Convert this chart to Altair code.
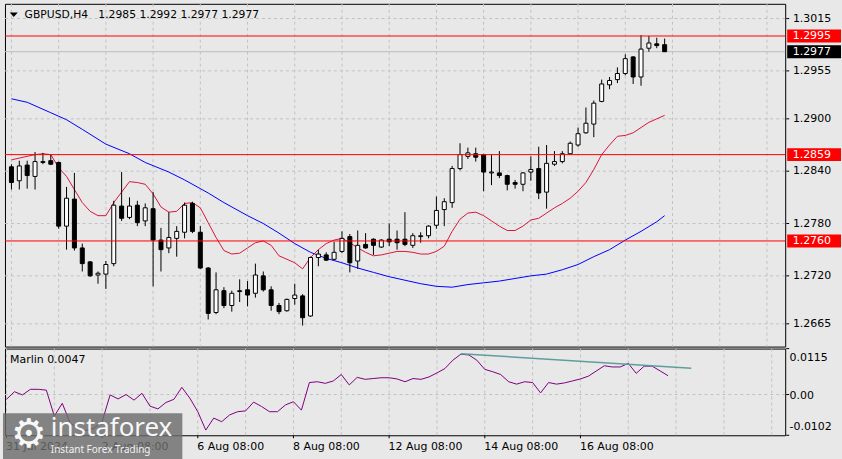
import altair as alt
import pandas as pd

# ---------------- data ----------------
symbol = "GBPUSD,H4"
opens = [1.2845, 1.2829, 1.2847, 1.2834, 1.2850, 1.2852, 1.2850, 1.2777, 1.2808, 1.2752,
         1.2736, 1.2721, 1.2722, 1.2734, 1.2800, 1.2787, 1.2801, 1.2783, 1.2797, 1.2761,
         1.2752, 1.2763, 1.2770, 1.2803, 1.2770, 1.2729, 1.2678, 1.2703, 1.2686, 1.2702,
         1.2704, 1.2700, 1.2720, 1.2704, 1.2686, 1.2680, 1.2694, 1.2697, 1.2674, 1.2741,
         1.2744, 1.2739, 1.2748, 1.2765, 1.2737, 1.2756, 1.2762, 1.2753, 1.2762, 1.2762,
         1.2762, 1.2755, 1.2765, 1.2766, 1.2778, 1.2796, 1.2804, 1.2843, 1.2857, 1.2860,
         1.2859, 1.2838, 1.2838, 1.2835, 1.2827, 1.2825, 1.2839, 1.2843, 1.2816, 1.2848,
         1.2851, 1.2860, 1.2870, 1.2884, 1.2894, 1.2920, 1.2939, 1.2945, 1.2952, 1.2971,
         1.2948, 1.2981, 1.2986, 1.2985]
highs = [1.2848, 1.2852, 1.2852, 1.2862, 1.2861, 1.2859, 1.2851, 1.2822, 1.2838, 1.2757,
         1.2737, 1.2725, 1.2737, 1.2806, 1.2839, 1.2810, 1.2806, 1.2803, 1.2816, 1.2775,
         1.2793, 1.2777, 1.2804, 1.2805, 1.2777, 1.2730, 1.2724, 1.2707, 1.2703, 1.2716,
         1.2714, 1.2734, 1.2725, 1.2708, 1.2689, 1.2694, 1.2711, 1.2699, 1.2742, 1.2750,
         1.2747, 1.2759, 1.2771, 1.2768, 1.2772, 1.2769, 1.2763, 1.2762, 1.2780, 1.2772,
         1.2793, 1.2769, 1.2770, 1.2778, 1.2811, 1.2809, 1.2846, 1.2872, 1.2867, 1.2867,
         1.2860, 1.2859, 1.2863, 1.2836, 1.2830, 1.2839, 1.2857, 1.2868, 1.2870, 1.2863,
         1.2863, 1.2874, 1.2890, 1.2913, 1.2921, 1.2945, 1.2948, 1.2959, 1.2974, 1.2972,
         1.2996, 1.2995, 1.2993, 1.2992]
lows = [1.2819, 1.2819, 1.2820, 1.2819, 1.2848, 1.2847, 1.2774, 1.2750, 1.2749, 1.2725,
        1.2719, 1.2711, 1.2705, 1.2731, 1.2783, 1.2785, 1.2777, 1.2777, 1.2708, 1.2725,
        1.2746, 1.2742, 1.2763, 1.2769, 1.2728, 1.2670, 1.2676, 1.2683, 1.2679, 1.2690,
        1.2685, 1.2695, 1.2702, 1.2680, 1.2676, 1.2679, 1.2687, 1.2663, 1.2673, 1.2731,
        1.2737, 1.2738, 1.2746, 1.2724, 1.2728, 1.2751, 1.2744, 1.2752, 1.2754, 1.2750,
        1.2754, 1.2752, 1.2758, 1.2763, 1.2774, 1.2777, 1.2798, 1.2841, 1.2854, 1.2851,
        1.2817, 1.2824, 1.2832, 1.2818, 1.2820, 1.2817, 1.2829, 1.2808, 1.2797, 1.2846,
        1.2849, 1.2859, 1.2868, 1.2883, 1.2879, 1.2919, 1.2934, 1.2941, 1.2950, 1.2940,
        1.2938, 1.2977, 1.2981, 1.2977]
closes = [1.2827, 1.2846, 1.2835, 1.2851, 1.2851, 1.2848, 1.2777, 1.2809, 1.2752, 1.2734,
          1.2720, 1.2723, 1.2733, 1.2801, 1.2786, 1.2800, 1.2781, 1.2798, 1.2761, 1.2750,
          1.2764, 1.2771, 1.2801, 1.2771, 1.2729, 1.2677, 1.2704, 1.2686, 1.2700, 1.2703,
          1.2698, 1.2721, 1.2704, 1.2686, 1.2679, 1.2693, 1.2698, 1.2672, 1.2741, 1.2745,
          1.2738, 1.2747, 1.2763, 1.2735, 1.2755, 1.2752, 1.2755, 1.2761, 1.2759, 1.2758,
          1.2756, 1.2766, 1.2766, 1.2777, 1.2795, 1.2805, 1.2843, 1.2859, 1.2861, 1.2856,
          1.2839, 1.2839, 1.2835, 1.2825, 1.2825, 1.2838, 1.2842, 1.2815, 1.2849, 1.2851,
          1.2860, 1.2872, 1.2883, 1.2895, 1.2918, 1.2940, 1.2944, 1.2952, 1.2969, 1.2948,
          1.2980, 1.2987, 1.2984, 1.2977]

ma_red = [1.2853, 1.2855, 1.2857, 1.2859, 1.2860, 1.2859, 1.2844, 1.2834, 1.2819, 1.2804,
          1.2794, 1.2789, 1.2789, 1.2804, 1.2816, 1.2828, 1.2827, 1.2825, 1.2814, 1.2799,
          1.2793, 1.2794, 1.2803, 1.2804, 1.2798, 1.2781, 1.2764, 1.2749, 1.2745, 1.2746,
          1.2752, 1.2758, 1.2760, 1.2755, 1.2743, 1.2739, 1.2735, 1.2728, 1.2741, 1.2750,
          1.2757, 1.2761, 1.2763, 1.2758, 1.2752, 1.2747, 1.2743, 1.2744, 1.2746, 1.2748,
          1.2748, 1.2747, 1.2745, 1.2745, 1.2748, 1.2754, 1.2771, 1.2785, 1.2792, 1.2793,
          1.2789, 1.2783, 1.2777, 1.2772, 1.2772, 1.2777, 1.2784, 1.2786, 1.2792, 1.2798,
          1.2803, 1.2809, 1.2817, 1.2827, 1.2842, 1.2859, 1.2870, 1.2880, 1.2881, 1.2884,
          1.2890, 1.2896, 1.2900, 1.2904]

ma_blue_idx = [0, 2, 5, 7, 9, 12, 15, 17, 20, 22, 25, 27, 30, 32, 34, 36, 38, 40, 42, 44,
               46, 48, 50, 52, 54, 56, 58, 60, 62, 64, 66, 68, 70, 72, 74, 76, 78, 80, 82, 83]
ma_blue = [1.2923, 1.2919, 1.2907, 1.2899, 1.2888, 1.2871, 1.2860, 1.2850, 1.2839, 1.2830,
           1.2815, 1.2804, 1.2789, 1.2780, 1.2769, 1.2757, 1.2747, 1.2740, 1.2735, 1.2729,
           1.2724, 1.2719, 1.2715, 1.2711, 1.2708, 1.2707, 1.2710, 1.2712, 1.2714, 1.2717,
           1.2720, 1.2722, 1.2727, 1.2733, 1.2742, 1.2750, 1.2761, 1.2771, 1.2782, 1.2789]

marlin = [-0.0012, 0.0007, -0.0001, 0.0013, 0.0013, 0.0011, -0.0054, -0.0022, -0.0072, -0.0084,
          -0.0090, -0.0084, -0.0068, -0.0001, -0.0011, 0.0000, -0.0014, 0.0003, -0.0029, -0.0036,
          -0.0020, -0.0012, 0.0018, -0.0009, -0.0043, -0.0089, -0.0059, -0.0068, -0.0051, -0.0043,
          -0.0041, -0.0019, -0.0030, -0.0043, -0.0043, -0.0026, -0.0018, -0.0039, 0.0030, 0.0032,
          0.0028, 0.0034, 0.0050, 0.0024, 0.0043, 0.0038, 0.0040, 0.0042, 0.0042, 0.0039,
          0.0032, 0.0040, 0.0038, 0.0044, 0.0054, 0.0065, 0.0086, 0.0101, 0.0099, 0.0086,
          0.0063, 0.0057, 0.0050, 0.0032, 0.0026, 0.0032, 0.0030, 0.0004, 0.0030, 0.0026,
          0.0029, 0.0034, 0.0039, 0.0046, 0.0059, 0.0072, 0.0069, 0.0069, 0.0078, 0.0053,
          0.0071, 0.0071, 0.0059, 0.0047]
trend_idx = [57, 85.9]
trend_val = [0.0102, 0.0066]

levels = [1.2995, 1.2859, 1.2760]
bid = 1.2977
price_ticks = [1.3015, 1.2955, 1.2900, 1.2840, 1.2780, 1.2720, 1.2665]
marlin_ticks = [0.0115, 0.0, -0.0102]
marlin_tick_labels = ["0.0115", "0.00", "-0.0102"]
grid_idx = [0, 6, 12, 18, 24, 30, 36, 42, 48, 54, 60, 66, 72, 78, 84, 90, 96]
x_label_idx = [0, 12, 24, 36, 48, 60, 72]
x_labels = ["31 Jul 2024", "2 Aug 08:00", "6 Aug 08:00", "8 Aug 08:00",
            "12 Aug 08:00", "14 Aug 08:00", "16 Aug 08:00"]

# ---------------- layout / style ----------------
X_DOM = [-0.1875, 97.6875]
Y_DOM = [1.26389, 1.30319]
M_DOM = [-0.0102, 0.0115]
W, H_MAIN, H_IND = 783, 344, 87
FONT = "DejaVu Sans"
GRID = "#c2c2c2"
BG = "#e8e8e8"
NB = "\u00a0"


def xq(field="i"):
    return alt.X(f"{field}:Q", scale=alt.Scale(domain=X_DOM, nice=False, zero=False),
                 axis=None, title=None)


def yq(field, dom):
    return alt.Y(f"{field}:Q", scale=alt.Scale(domain=dom, nice=False, zero=False),
                 axis=None, title=None)


n = len(opens)
cdf = pd.DataFrame({"i": list(range(n)), "o": opens, "h": highs, "l": lows, "c": closes})
grid_df = pd.DataFrame({"i": grid_idx})
pt_df = pd.DataFrame({"p": price_ticks, "lab": [f"{v:.4f}" for v in price_ticks]})

# ---------------- main price panel ----------------
vgrid = alt.Chart(grid_df).mark_rule(color=GRID, strokeDash=[3, 3], strokeWidth=1).encode(x=xq())
hgrid = alt.Chart(pt_df).mark_rule(color=GRID, strokeDash=[3, 3], strokeWidth=1).encode(
    y=yq("p", Y_DOM))
p_ticks = alt.Chart(pt_df).mark_rule(color="black", strokeWidth=1).encode(
    y=yq("p", Y_DOM), x=alt.value(784), x2=alt.value(787))
p_labels = alt.Chart(pt_df).mark_text(align="left", baseline="middle", font=FONT, fontSize=11,
                                      color="black").encode(
    y=yq("p", Y_DOM), x=alt.value(790.7), text="lab:N")

bid_line = alt.Chart(pd.DataFrame({"p": [bid]})).mark_rule(color="#bdbdbd", strokeWidth=1).encode(
    y=yq("p", Y_DOM))

blue_line = alt.Chart(pd.DataFrame({"i": ma_blue_idx, "v": ma_blue})).mark_line(
    color="#0000ff", strokeWidth=1).encode(x=xq(), y=yq("v", Y_DOM))
red_line = alt.Chart(pd.DataFrame({"i": list(range(n)), "v": ma_red})).mark_line(
    color="#dc143c", strokeWidth=1).encode(x=xq(), y=yq("v", Y_DOM))

wicks = alt.Chart(cdf).mark_rule(color="black", strokeWidth=1).encode(
    x=xq(), y=yq("l", Y_DOM), y2="h:Q")
bodies = alt.Chart(cdf).mark_bar(size=4, stroke="black", strokeWidth=1).encode(
    x=xq(), y=yq("o", Y_DOM), y2="c:Q",
    fill=alt.condition("datum.c >= datum.o", alt.value("white"), alt.value("black")))

level_lines = alt.Chart(pd.DataFrame({"p": levels})).mark_rule(color="#ff0000", strokeWidth=1).encode(
    y=yq("p", Y_DOM))

box_df = pd.DataFrame({"p": levels + [bid],
                       "fill": ["#ff0000"] * len(levels) + ["#000000"],
                       "lab": [f"{v:.4f}" for v in levels + [bid]]})
boxes = alt.Chart(box_df).mark_rect(yOffset=-6.5, y2Offset=6.5).encode(
    y=yq("p", Y_DOM), y2="p:Q", x=alt.value(785), x2=alt.value(839),
    color=alt.Color("fill:N", scale=None))
box_text = alt.Chart(box_df).mark_text(align="left", baseline="middle", color="white",
                                       font=FONT, fontSize=11).encode(
    y=yq("p", Y_DOM), x=alt.value(790.5), text="lab:N")

header = (f"{symbol}{NB*3}{opens[-1]:.4f} {highs[-1]:.4f} "
          f"{lows[-1]:.4f} {closes[-1]:.4f}")
head_df = pd.DataFrame({"t": [header]})
tri = alt.Chart(head_df).mark_point(shape="M-1,-0.55L1,-0.55L0,0.55Z", filled=True, color="black",
                                    size=64, opacity=1).encode(x=alt.value(8.8), y=alt.value(11))
head_text = alt.Chart(head_df).mark_text(align="left", baseline="middle", font=FONT, fontSize=10.8,
                                         color="black").encode(
    x=alt.value(19.7), y=alt.value(11), text="t:N")

main = alt.layer(vgrid, hgrid, bid_line, blue_line, red_line, wicks, bodies, level_lines,
                 p_ticks, p_labels, boxes, box_text, tri, head_text).properties(
    width=W, height=H_MAIN)

# ---------------- Marlin panel ----------------
xl_df = pd.DataFrame({"i": x_label_idx, "lab": x_labels})
vgrid2 = alt.Chart(grid_df).mark_rule(color=GRID, strokeDash=[3, 3], strokeWidth=1).encode(x=xq())
zero_line = alt.Chart(pd.DataFrame({"v": [0.0]})).mark_rule(color=GRID, strokeDash=[3, 3]).encode(
    y=yq("v", M_DOM))
x_ticks = alt.Chart(xl_df).mark_rule(color="black", strokeWidth=1).encode(
    x=xq(), y=alt.value(H_IND), y2=alt.value(H_IND + 3))
x_text = alt.Chart(xl_df).mark_text(align="left", baseline="top", font=FONT, fontSize=11,
                                    color="black", dx=-0.5).encode(
    x=xq(), y=alt.value(H_IND + 6), text="lab:N")

m_df = pd.DataFrame({"i": list(range(n)), "m": marlin})
m_line = alt.Chart(m_df).mark_line(color="#800080", strokeWidth=1).encode(
    x=xq(), y=yq("m", M_DOM))
t_line = alt.Chart(pd.DataFrame({"i": trend_idx, "m": trend_val})).mark_line(
    color="#5f9ea0", strokeWidth=1.5).encode(x=xq(), y=yq("m", M_DOM))
m_label = alt.Chart(pd.DataFrame({"t": [f"Marlin {marlin[-1]:.4f}"]})).mark_text(
    align="left", baseline="middle", font=FONT, fontSize=11, color="black").encode(
    x=alt.value(5), y=alt.value(11), text="t:N")

mt_df = pd.DataFrame({"v": marlin_ticks, "lab": marlin_tick_labels})
m_ticks = alt.Chart(mt_df).mark_rule(color="black", strokeWidth=1).encode(
    y=yq("v", M_DOM), x=alt.value(784), x2=alt.value(787))
m_tick_text = []
for k, shift in zip(range(len(marlin_ticks)), [9, 1.5, -8]):
    m_tick_text.append(
        alt.Chart(mt_df.iloc[[k]]).mark_text(align="left", baseline="middle", font=FONT,
                                             fontSize=11, color="black", dy=shift).encode(
            y=yq("v", M_DOM), x=alt.value(787.3), text="lab:N"))

wm_df = pd.DataFrame({"a": ["instaforex"], "b": ["Instant Forex Trading"], "g": ["\u2699"]})
wm_box = alt.Chart(wm_df).mark_rect(color="#6d6d6d", opacity=0.82).encode(
    x=alt.value(-2), x2=alt.value(178), y=alt.value(65), y2=alt.value(111))
wm_gear = alt.Chart(wm_df).mark_text(align="center", baseline="middle", font=FONT, fontSize=40,
                                     color="white", opacity=0.95).encode(
    x=alt.value(24), y=alt.value(87), text="g:N")
wm_name = alt.Chart(wm_df).mark_text(align="left", baseline="alphabetic", font="Noto Sans",
                                     fontSize=26, color="white", opacity=0.95).encode(
    x=alt.value(46), y=alt.value(88), text="a:N")
wm_tag = alt.Chart(wm_df).mark_text(align="left", baseline="middle", font="Noto Sans",
                                    fontSize=10, color="white", opacity=0.9).encode(
    x=alt.value(46), y=alt.value(102), text="b:N")

ind = alt.layer(vgrid2, zero_line, m_line, t_line, m_label, m_ticks, *m_tick_text,
                x_ticks, x_text, wm_box, wm_gear, wm_name, wm_tag).properties(
    width=W, height=H_IND)

chart = alt.vconcat(main, ind, spacing=2, bounds="flush").properties(
    padding={"left": 2, "top": 2, "right": 0, "bottom": 0},
    background=BG,
).configure_view(stroke="black", strokeWidth=1)

chart.save("out.html", embed_options={"renderer": "svg", "actions": False})
